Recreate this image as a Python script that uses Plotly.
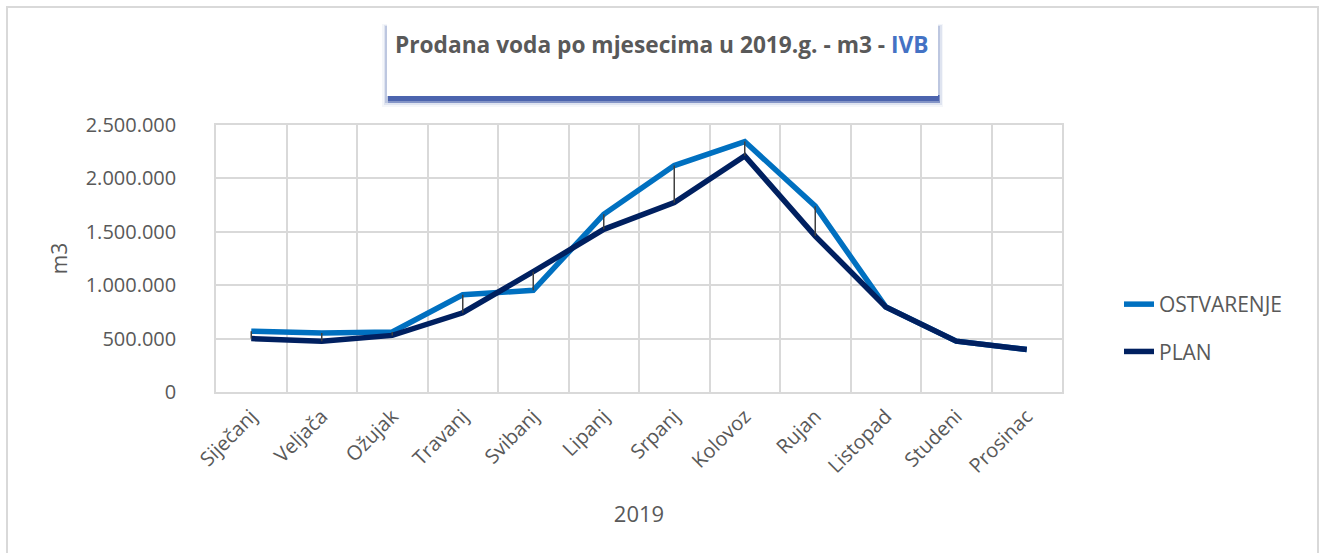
import plotly.graph_objects as go

months = ["Siječanj", "Veljača", "Ožujak", "Travanj", "Svibanj", "Lipanj",
          "Srpanj", "Kolovoz", "Rujan", "Listopad", "Studeni", "Prosinac"]
ostvarenje = [569000, 552000, 562000, 910000, 952000, 1664000,
              2120000, 2345000, 1740000, 797000, 476000, 398000]
plan = [500000, 475000, 530000, 742000, 1126000, 1523000,
        1773000, 2211000, 1460000, 797000, 476000, 398000]
y_ticks = [0, 500000, 1000000, 1500000, 2000000, 2500000]

W, H = 1320, 553
L, R, T, B = 216, 1062, 125, 392  # plot area in pixels


def px(x):
    return (x - L) / (R - L)


def py(y):
    return (B - y) / (B - T)


# high-low connector lines built from the data
hl_x, hl_y = [], []
for m, a, b in zip(months, ostvarenje, plan):
    hl_x += [m, m, None]
    hl_y += [a, b, None]

fig = go.Figure()
fig.add_trace(go.Scatter(x=months, y=ostvarenje, mode="lines", name="OSTVARENJE",
                         line=dict(color="#0070C0", width=5.5), legendgroup="a"))
fig.add_trace(go.Scatter(x=months, y=plan, mode="lines", name="PLAN",
                         line=dict(color="#002060", width=5.5), legendgroup="b"))
fig.add_trace(go.Scatter(x=hl_x, y=hl_y, mode="lines", showlegend=False,
                         line=dict(color="#404040", width=1.5), hoverinfo="skip"))


def rect(x0, x1, y0, y1, fill, line=None):
    return dict(type="rect", xref="paper", yref="paper",
                x0=px(x0), x1=px(x1), y0=py(y0), y1=py(y1),
                line=line or dict(width=0), fillcolor=fill)


shapes = [
    # outer chart border
    rect(7, 1318, 7, 600, "rgba(0,0,0,0)", dict(color="#d9d9d9", width=2)),
    # title box soft shadow
    rect(382, 943, 24, 107, "rgba(70,95,170,0.06)"),
    rect(384, 942, 25, 105, "rgba(70,95,170,0.12)"),
    rect(385, 940, 26, 103, "rgba(70,95,170,0.22)"),
    rect(388, 940, 95, 103, "rgba(62,88,168,0.45)"),
    rect(388, 939, 95, 101, "rgba(62,88,168,0.8)"),
    # title box
    rect(387, 938, 24, 96, "white"),
]

fig.update_layout(
    width=W, height=H,
    margin=dict(l=L, r=W - R, t=T, b=H - B, pad=0),
    paper_bgcolor="white", plot_bgcolor="white",
    separators=",.",
    font=dict(family="Open Sans", color="#595959", size=20),
    shapes=shapes,
    showlegend=True,
    legend=dict(x=px(1119), y=py(328), xanchor="left", yanchor="middle",
                font=dict(size=21, color="#595959"), traceorder="grouped",
                tracegroupgap=17, bgcolor="rgba(0,0,0,0)"),
    annotations=[dict(
        text="<b>Prodana voda po mjesecima u 2019.g. - m3 - <span style='color:#4472C4'>IVB</span></b>",
        xref="paper", yref="paper", x=px(662), y=py(45), xanchor="center", yanchor="middle",
        showarrow=False, font=dict(size=22.7, color="#595959"))],
    xaxis=dict(type="category", range=[-0.5, 11.5], tickson="boundaries",
               showgrid=True, gridcolor="#d9d9d9", gridwidth=1.5,
               showline=True, linecolor="#d9d9d9", linewidth=1.5, mirror=True,
               tickangle=-45, tickfont=dict(size=20, color="#595959"),
               ticks="", ticklabelstandoff=3,
               title=dict(text="2019", font=dict(size=22, color="#595959"), standoff=29)),
    yaxis=dict(range=[0, 2500000], tickvals=y_ticks,
               tickformat=",d", showgrid=True, gridcolor="#d9d9d9", gridwidth=1.5,
               showline=True, linecolor="#d9d9d9", linewidth=1.5, mirror=True,
               zeroline=False, ticks="", ticklabelstandoff=34,
               tickfont=dict(size=20, color="#595959"),
               title=dict(text="m3", font=dict(size=21, color="#595959"), standoff=12)),
)

fig.write_html("out.html", config={"displayModeBar": False},
               post_script="document.body.style.margin='0px';")
